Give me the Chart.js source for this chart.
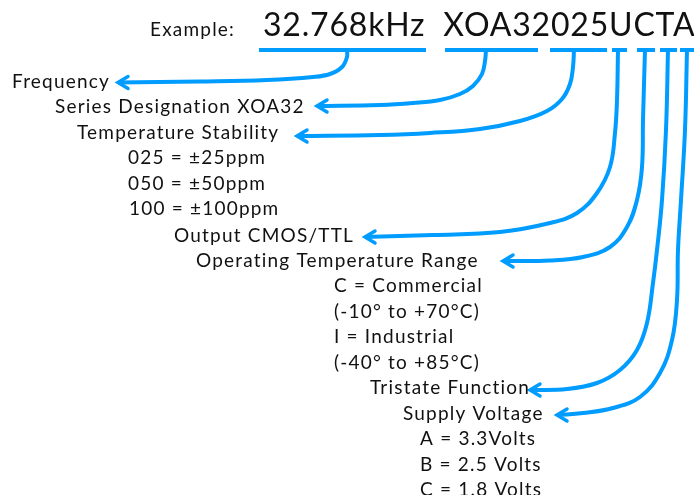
<!DOCTYPE html>
<html>
<head>
<meta charset="utf-8">
<script src="https://cdn.jsdelivr.net/npm/chart.js@4.4.1/dist/chart.umd.min.js"></script>
<style>
  html, body { margin: 0; padding: 0; background: #fff; }
  #wrap { width: 694px; height: 495px; }
</style>
</head>
<body>
<div id="wrap"><canvas id="myChart" width="694" height="495"></canvas></div>
<script>
// part number shown at the top
const exampleLabel = "Example:";
const partNumber = "32.768kHz  XOA32025UCTA";

// underline pieces under the part number (x from, x to)
const barFrom = [259, 445, 550, 612, 637, 660, 680];
const barTo = [426, 538, 607, 627, 655, 677, 694];
const barY = 50;

// description lines on the left
const rowText = [
   "Frequency",
   "Series Designation XOA32",
   "Temperature Stability",
   "025 = \u00b125ppm",
   "050 = \u00b150ppm",
   "100 = \u00b1100ppm",
   "Output CMOS/TTL",
   "Operating Temperature Range",
   "C = Commercial",
   "(-10\u00b0 to +70\u00b0C)",
   "I = Industrial",
   "(-40\u00b0 to +85\u00b0C)",
   "Tristate Function",
   "Supply Voltage",
   "A = 3.3Volts",
   "B = 2.5 Volts",
   "C = 1.8 Volts",
];
const rowX = [12, 55, 77, 128, 128, 129, 174, 196, 334, 334, 334, 334, 370, 403, 420, 420, 420];
const rowY = [82, 107, 133, 158, 184, 209, 236, 261, 286, 312, 337, 363, 388, 414, 439, 465, 490];

// connector paths (x list, y list)
const freqX = [347, 347, 342, 330, 313, 267, 200, 118];
const freqY = [50, 57, 67, 74, 77, 80, 81.5, 82.5];
const seriesX = [486, 485, 482, 473, 460, 440, 413, 380, 317];
const seriesY = [50, 61, 74, 86, 94, 100, 103, 105, 106];
const stabX = [574, 573, 570, 562, 547, 520, 480, 430, 380, 297];
const stabY = [50, 67, 84, 99, 111, 121, 129, 133, 135, 136];
const outX = [618, 617, 615, 610, 597, 577, 550, 500, 433, 365];
const outY = [50, 100, 133, 167, 193, 213, 223, 232, 235, 237];
const operX = [645, 643, 642, 637, 627, 610, 583, 550, 503];
const operY = [50, 120, 167, 200, 227, 247, 257, 260.5, 261];
const triX = [668, 666, 662, 657, 653, 647, 637, 620, 597, 567, 530];
const triY = [50, 130, 200, 250, 283, 323, 350, 370, 383, 389, 390];
const supX = [687, 685, 681, 678, 677, 672, 660, 640, 613, 583, 557];
const supY = [50, 130, 200, 250, 300, 340, 373, 397, 408, 413, 415];

const blue = "#009cff";

const paths = [
   [freqX, freqY],
   [seriesX, seriesY],
   [stabX, stabY],
   [outX, outY],
   [operX, operY],
   [triX, triY],
   [supX, supY],
];

let datasets = [];

barFrom.forEach((x0, i) => {
   datasets.push({
      data: [{ x: x0, y: barY }, { x: barTo[i], y: barY }],
      showLine: true,
      borderColor: blue,
      borderWidth: 4,
      pointRadius: 0,
      borderCapStyle: "butt",
   });
});

paths.forEach((p) => {
   let xs = p[0];
   let ys = p[1];
   let pts = xs.map((x, i) => ({ x: x, y: ys[i] }));
   datasets.push({
      data: pts,
      showLine: true,
      borderColor: blue,
      borderWidth: 4,
      pointRadius: 0,
      tension: 0.4,
      borderCapStyle: "butt",
   });
   // arrow head at the end point
   let tx = xs[xs.length - 1];
   let ty = ys[ys.length - 1];
   datasets.push({
      data: [
         { x: tx + 10, y: ty - 6 },
         { x: tx, y: ty },
         { x: tx + 10, y: ty + 6 },
      ],
      showLine: true,
      borderColor: blue,
      borderWidth: 3.5,
      pointRadius: 0,
      borderJoinStyle: "miter",
      borderCapStyle: "round",
   });
});

const textPlugin = {
   id: "texts",
   afterDatasetsDraw(chart) {
      const c = chart.ctx;
      const sx = chart.scales.x;
      const sy = chart.scales.y;
      c.save();
      c.fillStyle = "#111";
      c.textBaseline = "middle";
      c.textAlign = "left";
      c.font = "19px Lato";
      c.letterSpacing = "1.2px";
      c.fillText(exampleLabel, sx.getPixelForValue(150), sy.getPixelForValue(30));
      c.font = "32px Lato";
      c.letterSpacing = "0.8px";
      c.fillText(partNumber, sx.getPixelForValue(263), sy.getPixelForValue(26));
      c.font = "19px Lato";
      c.letterSpacing = "1.2px";
      rowText.forEach((t, i) => {
         c.fillText(t, sx.getPixelForValue(rowX[i]), sy.getPixelForValue(rowY[i]));
      });
      c.restore();
   },
};

const ctx = document.getElementById("myChart");
new Chart(ctx, {
   type: "scatter",
   data: { datasets },
   options: {
      responsive: false,
      animation: false,
      layout: { padding: 0 },
      plugins: { legend: { display: false }, tooltip: { enabled: false } },
      scales: {
         x: { type: "linear", min: 0, max: 694, display: false },
         y: { type: "linear", min: 0, max: 495, reverse: true, display: false },
      },
   },
   plugins: [textPlugin],
});
</script>
</body>
</html>
